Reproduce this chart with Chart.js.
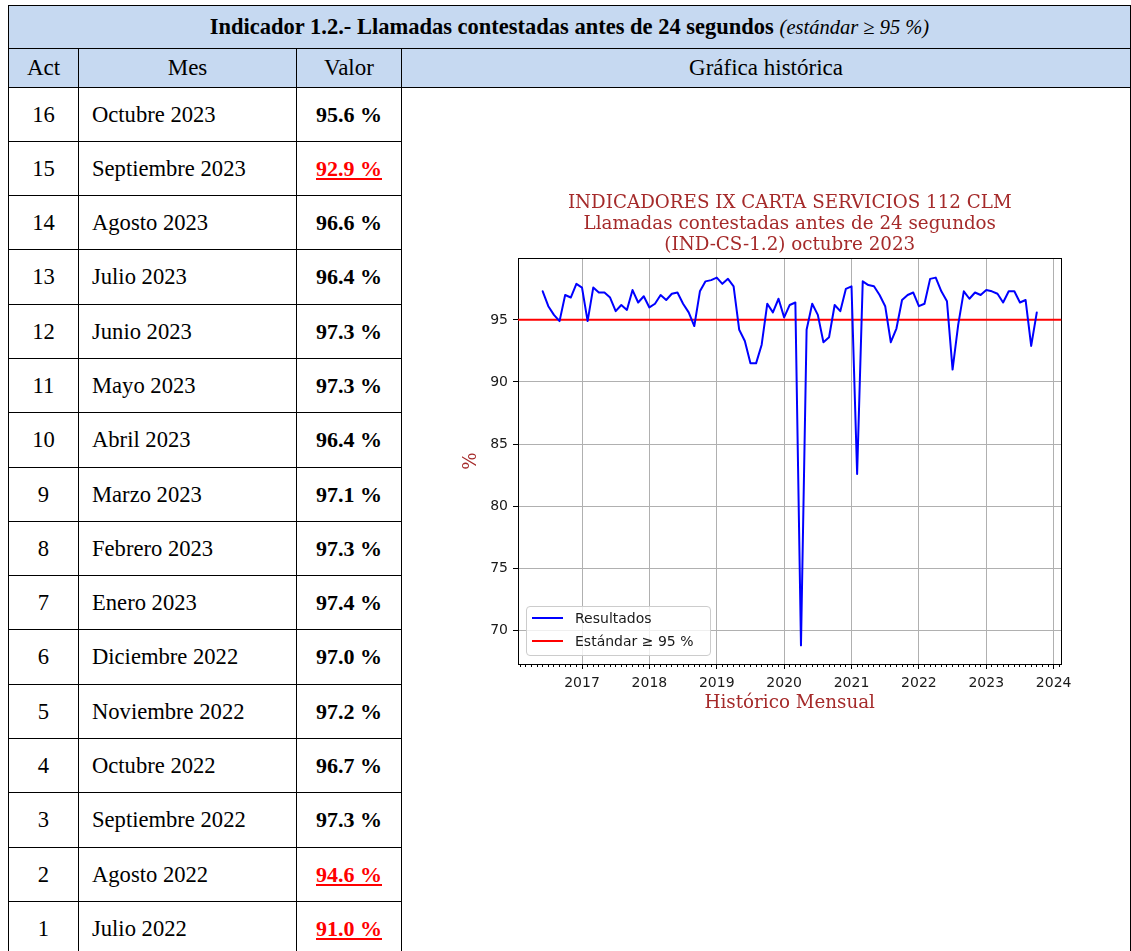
<!DOCTYPE html>
<html>
<head>
<meta charset="utf-8">
<script src="https://cdn.jsdelivr.net/npm/chart.js"></script>
<style>
  html, body { margin: 0; padding: 0; background: #fff; width: 1131px; height: 951px; overflow: hidden; }
  #page { position: relative; width: 1131px; height: 951px; }
  .cell {
    position: absolute; box-sizing: border-box; border: 1px solid #000;
    display: flex; align-items: center; justify-content: center;
    font-family: "Liberation Serif", serif; color: #000;
  }
  .head { background: #c6d9f1; font-size: 23px; }
  .data { font-size: 22.6px; }
  .mes { justify-content: flex-start; padding-left: 13px; }
  .valor { font-weight: bold; font-size: 22px; }
  .malo { color: #ff0000; text-decoration: underline; }
  #chartBox { position: absolute; left: 440px; top: 186px; width: 640px; height: 530px; }
  #leyenda {
    position: absolute; left: 526px; top: 606px; width: 185px; height: 50px; box-sizing: border-box;
    border: 1px solid #cccccc; border-radius: 4px; background: rgba(255,255,255,0.8);
    font-family: "DejaVu Sans", sans-serif; font-size: 14px; color: #1a1a1a;
  }
  .item { position: absolute; left: 5px; height: 20px; display: flex; align-items: center; }
  .item span.linea { display: inline-block; width: 31px; height: 2px; margin-right: 12px; }
</style>
</head>
<body>
<div id="page">
  <div id="chartBox"><canvas id="grafica" width="640" height="530"></canvas></div>
  <div id="leyenda">
    <div class="item" style="top:1px"><span class="linea" style="background:#0000ff"></span>Resultados</div>
    <div class="item" style="top:24px"><span class="linea" style="background:#ff0000"></span>Estándar ≥ 95 %</div>
  </div>
</div>
<script>
// --- tabla (últimos 16 meses) ---
const tablaAct = [16, 15, 14, 13, 12, 11, 10, 9, 8, 7, 6, 5, 4, 3, 2, 1];
const tablaMes = ['Octubre 2023', 'Septiembre 2023', 'Agosto 2023', 'Julio 2023', 'Junio 2023', 'Mayo 2023',
  'Abril 2023', 'Marzo 2023', 'Febrero 2023', 'Enero 2023', 'Diciembre 2022', 'Noviembre 2022',
  'Octubre 2022', 'Septiembre 2022', 'Agosto 2022', 'Julio 2022'];
const tablaValor = [95.6, 92.9, 96.6, 96.4, 97.3, 97.3, 96.4, 97.1, 97.3, 97.4, 97.0, 97.2, 96.7, 97.3, 94.6, 91.0];

// --- serie histórica mensual (% llamadas contestadas antes de 24 s) ---
const v2016 = [97.3, 96.1, 95.4, 94.9, 97.0, 96.8, 97.9]; // jun-dic
const v2017 = [97.6, 94.9, 97.6, 97.2, 97.2, 96.8, 95.7, 96.2, 95.8, 97.4, 96.4, 96.9];
const v2018 = [96.0, 96.3, 97.0, 96.6, 97.1, 97.2, 96.3, 95.6, 94.5, 97.3, 98.1, 98.2];
const v2019 = [98.4, 97.9, 98.3, 97.7, 94.2, 93.3, 91.5, 91.5, 93.0, 96.3, 95.6, 96.7];
const v2020 = [95.2, 96.2, 96.4, 68.8, 94.2, 96.3, 95.4, 93.2, 93.6, 96.2, 95.7, 97.5];
const v2021 = [97.7, 82.6, 98.1, 97.8, 97.7, 97.0, 96.1, 93.2, 94.3, 96.6, 97.0, 97.2];
const v2022 = [96.1, 96.3, 98.3, 98.4, 97.3, 96.5, 91.0, 94.6, 97.3, 96.7, 97.2, 97.0];
const v2023 = [97.4, 97.3, 97.1, 96.4, 97.3, 97.3, 96.4, 96.6, 92.9, 95.6]; // ene-oct
const ESTANDAR = 95;
const AÑO_BASE = 2016;

// eje x en meses desde enero 2016
const X_MIN = 0.6, X_MAX = 97.4;
const Y_MIN = 67.3, Y_MAX = 99.98;

// ---------- tabla ----------
const page = document.getElementById('page');
const colX = [8, 78, 296, 401, 1130];
const filas = [87, 141, 195, 249, 304, 358, 412, 467, 521, 575, 629, 684, 738, 792, 847, 901, 956];

function celda(x1, y1, x2, y2, cls, html) {
  const d = document.createElement('div');
  d.className = 'cell ' + cls;
  d.style.left = x1 + 'px'; d.style.top = y1 + 'px';
  d.style.width = (x2 - x1 + 1) + 'px'; d.style.height = (y2 - y1 + 1) + 'px';
  d.innerHTML = html;
  page.insertBefore(d, page.firstChild);
  return d;
}

celda(8, 5, 1130, 48, 'head',
  '<span><b style="font-size:22.5px">Indicador 1.2.- Llamadas contestadas antes de 24 segundos</b> <i style="font-size:20.5px">(estándar ≥ 95 %)</i></span>');
const cab = ['Act', 'Mes', 'Valor', 'Gráfica histórica'];
cab.forEach((t, i) => celda(colX[i], 48, colX[i + 1], 87, 'head', t));
celda(401, 87, 1130, 956, '', '');

tablaAct.forEach((act, i) => {
  const y1 = filas[i], y2 = filas[i + 1];
  celda(colX[0], y1, colX[1], y2, 'data', String(act));
  celda(colX[1], y1, colX[2], y2, 'data mes', tablaMes[i]);
  const v = tablaValor[i];
  celda(colX[2], y1, colX[3], y2, 'data valor' + (v < ESTANDAR ? ' malo' : ''), v.toFixed(1) + ' %');
});

// ---------- gráfica ----------
const porAño = [[2016, 5, v2016], [2017, 0, v2017], [2018, 0, v2018], [2019, 0, v2019],
  [2020, 0, v2020], [2021, 0, v2021], [2022, 0, v2022], [2023, 0, v2023]];
const resultados = [];
porAño.forEach(([año, mes0, vals]) => {
  vals.forEach((v, i) => resultados.push({ x: (año - AÑO_BASE) * 12 + mes0 + i, y: v }));
});

const BROWN = '#a52a2a';
const tickFont = { family: 'DejaVu Sans', size: 14 };
const serifFont = { family: 'DejaVu Serif', size: 18.3 };

new Chart(document.getElementById('grafica'), {
  type: 'line',
  data: {
    datasets: [
      { label: 'Resultados', data: resultados, borderColor: '#0000ff', borderWidth: 2,
        pointRadius: 0, tension: 0, borderJoinStyle: 'round', borderCapStyle: 'round' },
      { label: 'Estándar ≥ 95 %', data: [{ x: X_MIN, y: ESTANDAR }, { x: X_MAX, y: ESTANDAR }],
        borderColor: '#ff0000', borderWidth: 2, pointRadius: 0 }
    ]
  },
  options: {
    responsive: false,
    animation: false,
    layout: { padding: { left: 0, right: 18.5, top: 0, bottom: 0 } },
    plugins: {
      legend: { display: false },
      tooltip: { enabled: false },
      title: {
        display: true, fullSize: false,
        text: ['INDICADORES IX CARTA SERVICIOS 112 CLM', 'Llamadas contestadas antes de 24 segundos', '(IND-CS-1.2) octubre 2023'],
        color: BROWN, font: { family: 'DejaVu Serif', size: 18.3, weight: 'normal', lineHeight: 21 / 18.3 },
        padding: { top: 7, bottom: 2 }
      }
    },
    scales: {
      x: {
        type: 'linear', position: 'bottom', min: X_MIN, max: X_MAX, weight: 1,
        afterFit: s => { s.height = 52; },
        grid: { color: '#b0b0b0', lineWidth: 1, tickLength: 5, tickColor: '#000' },
        border: { color: '#000', width: 1 },
        ticks: { stepSize: 12, includeBounds: false, autoSkip: false, maxRotation: 0,
          callback: v => String(AÑO_BASE + v / 12), font: tickFont, color: '#1a1a1a', padding: 6 },
        title: { display: true, text: 'Histórico Mensual', color: BROWN, font: serifFont, padding: { top: 0, bottom: 2 } }
      },
      xMeses: {
        type: 'linear', position: 'bottom', axis: 'x', min: X_MIN, max: X_MAX, weight: 0,
        afterFit: s => { s.height = 0; },
        grid: { drawOnChartArea: false, tickLength: 3, tickColor: '#000', lineWidth: 1 },
        border: { display: false },
        ticks: { stepSize: 1, includeBounds: false, autoSkip: false, display: false }
      },
      xTop: {
        type: 'linear', position: 'top', axis: 'x', min: X_MIN, max: X_MAX,
        afterFit: s => { s.height = 0; },
        grid: { display: false }, ticks: { display: false }, border: { color: '#000', width: 1 }
      },
      y: {
        type: 'linear', min: Y_MIN, max: Y_MAX,
        afterFit: s => { s.width = 78; },
        grid: { color: '#b0b0b0', lineWidth: 1, tickLength: 5, tickColor: '#000' },
        border: { color: '#000', width: 1 },
        ticks: { stepSize: 5, includeBounds: false, font: tickFont, color: '#1a1a1a', padding: 5 },
        title: { display: true, text: '%', color: BROWN, font: serifFont, padding: { top: 20, bottom: 0 } }
      },
      yRight: {
        type: 'linear', position: 'right', axis: 'y', min: Y_MIN, max: Y_MAX,
        afterFit: s => { s.width = 0; },
        grid: { display: false }, ticks: { display: false }, border: { color: '#000', width: 1 }
      }
    }
  }
});
</script>
</body>
</html>
